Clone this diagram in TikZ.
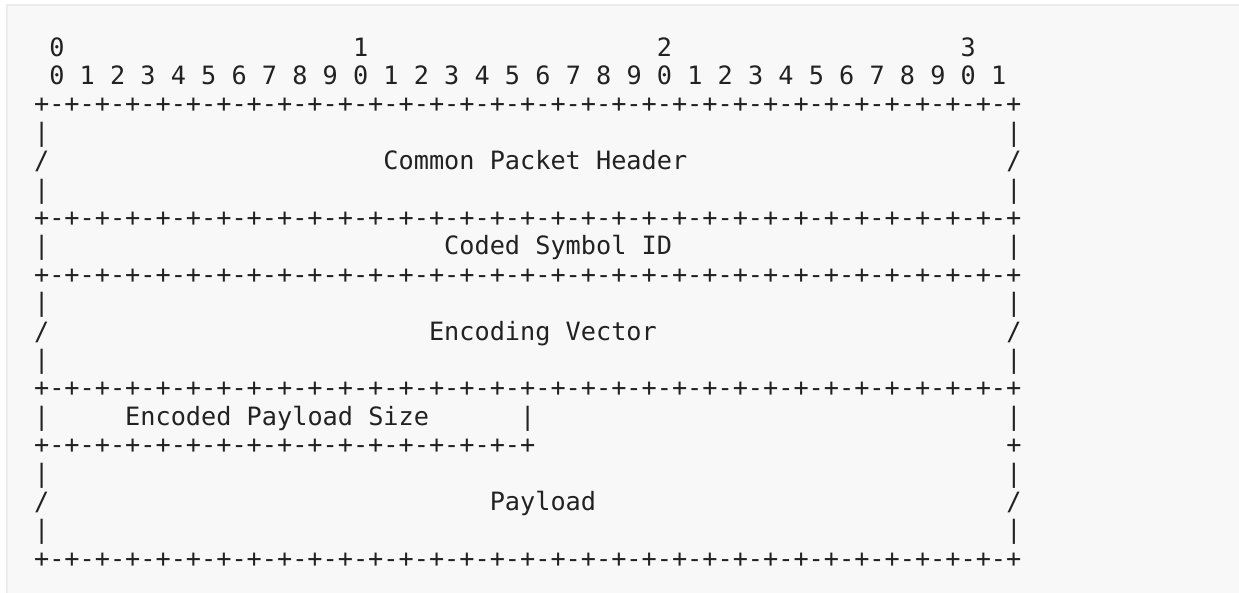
\documentclass[tikz,border=0pt]{standalone}
\usepackage{fontspec}
\newfontfamily\rfcmono{DejaVu Sans Mono}
\definecolor{boxfill}{RGB}{248,248,248}
\definecolor{boxline}{RGB}{236,236,236}
\definecolor{ink}{RGB}{34,34,34}
\newcommand{\fullrule}{+-+-+-+-+-+-+-+-+-+-+-+-+-+-+-+-+-+-+-+-+-+-+-+-+-+-+-+-+-+-+-+-+}
\newcommand{\halfrule}{+-+-+-+-+-+-+-+-+-+-+-+-+-+-+-+-+}

\begin{document}
\begin{tikzpicture}[x=15.19pt, y=-28.4pt]
  \tikzstyle{ascii} = [anchor=base west, inner sep=0pt, outer sep=0pt, text=ink,
    font=\rfcmono\fontsize{25.23}{28.4}\selectfont]
  \useasboundingbox (-34.1pt,56pt) rectangle (1204.9pt,-536pt);
  \fill[boxfill, draw=boxline, line width=2pt] (-27.1pt,51pt) rectangle (1230pt,-560pt);
  % bit numbering
  \foreach \n/\c in {0/1,1/21,2/41,3/61}
    \node[ascii] (ten\n) at (\c,0) {\n};
  \foreach \i in {0,...,31} {
    \pgfmathtruncatemacro{\d}{mod(\i,10)}
    \node[ascii] (bit\i) at ({2*\i+1},1) {\d};
  }
  % rules
  \foreach \r in {2,6,8,12,18}
    \node[ascii] (rule\r) at (0,\r) {\fullrule};
  \node[ascii] (halfrule) at (0,14) {\halfrule};
  \node[ascii] (halfend) at (64,14) {+};
  % side walls
  \foreach \r in {3,5,7,9,11,13,15,17} {
    \node[ascii] (lwall\r) at (0,\r) {|};
    \node[ascii] (rwall\r) at (64,\r) {|};
  }
  \foreach \r in {4,10,16} {
    \node[ascii] (lcut\r) at (0,\r) {/};
    \node[ascii] (rcut\r) at (64,\r) {/};
  }
  \node[ascii] (midwall) at (32,13) {|};
  % field names
  \node[ascii] (cph) at (23,4) {Common Packet Header};
  \node[ascii] (csid) at (27,7) {Coded Symbol ID};
  \node[ascii] (encvec) at (26,10) {Encoding Vector};
  \node[ascii] (encsize) at (6,13) {Encoded Payload Size};
  \node[ascii] (payload) at (30,16) {Payload};
\end{tikzpicture}
\end{document}
